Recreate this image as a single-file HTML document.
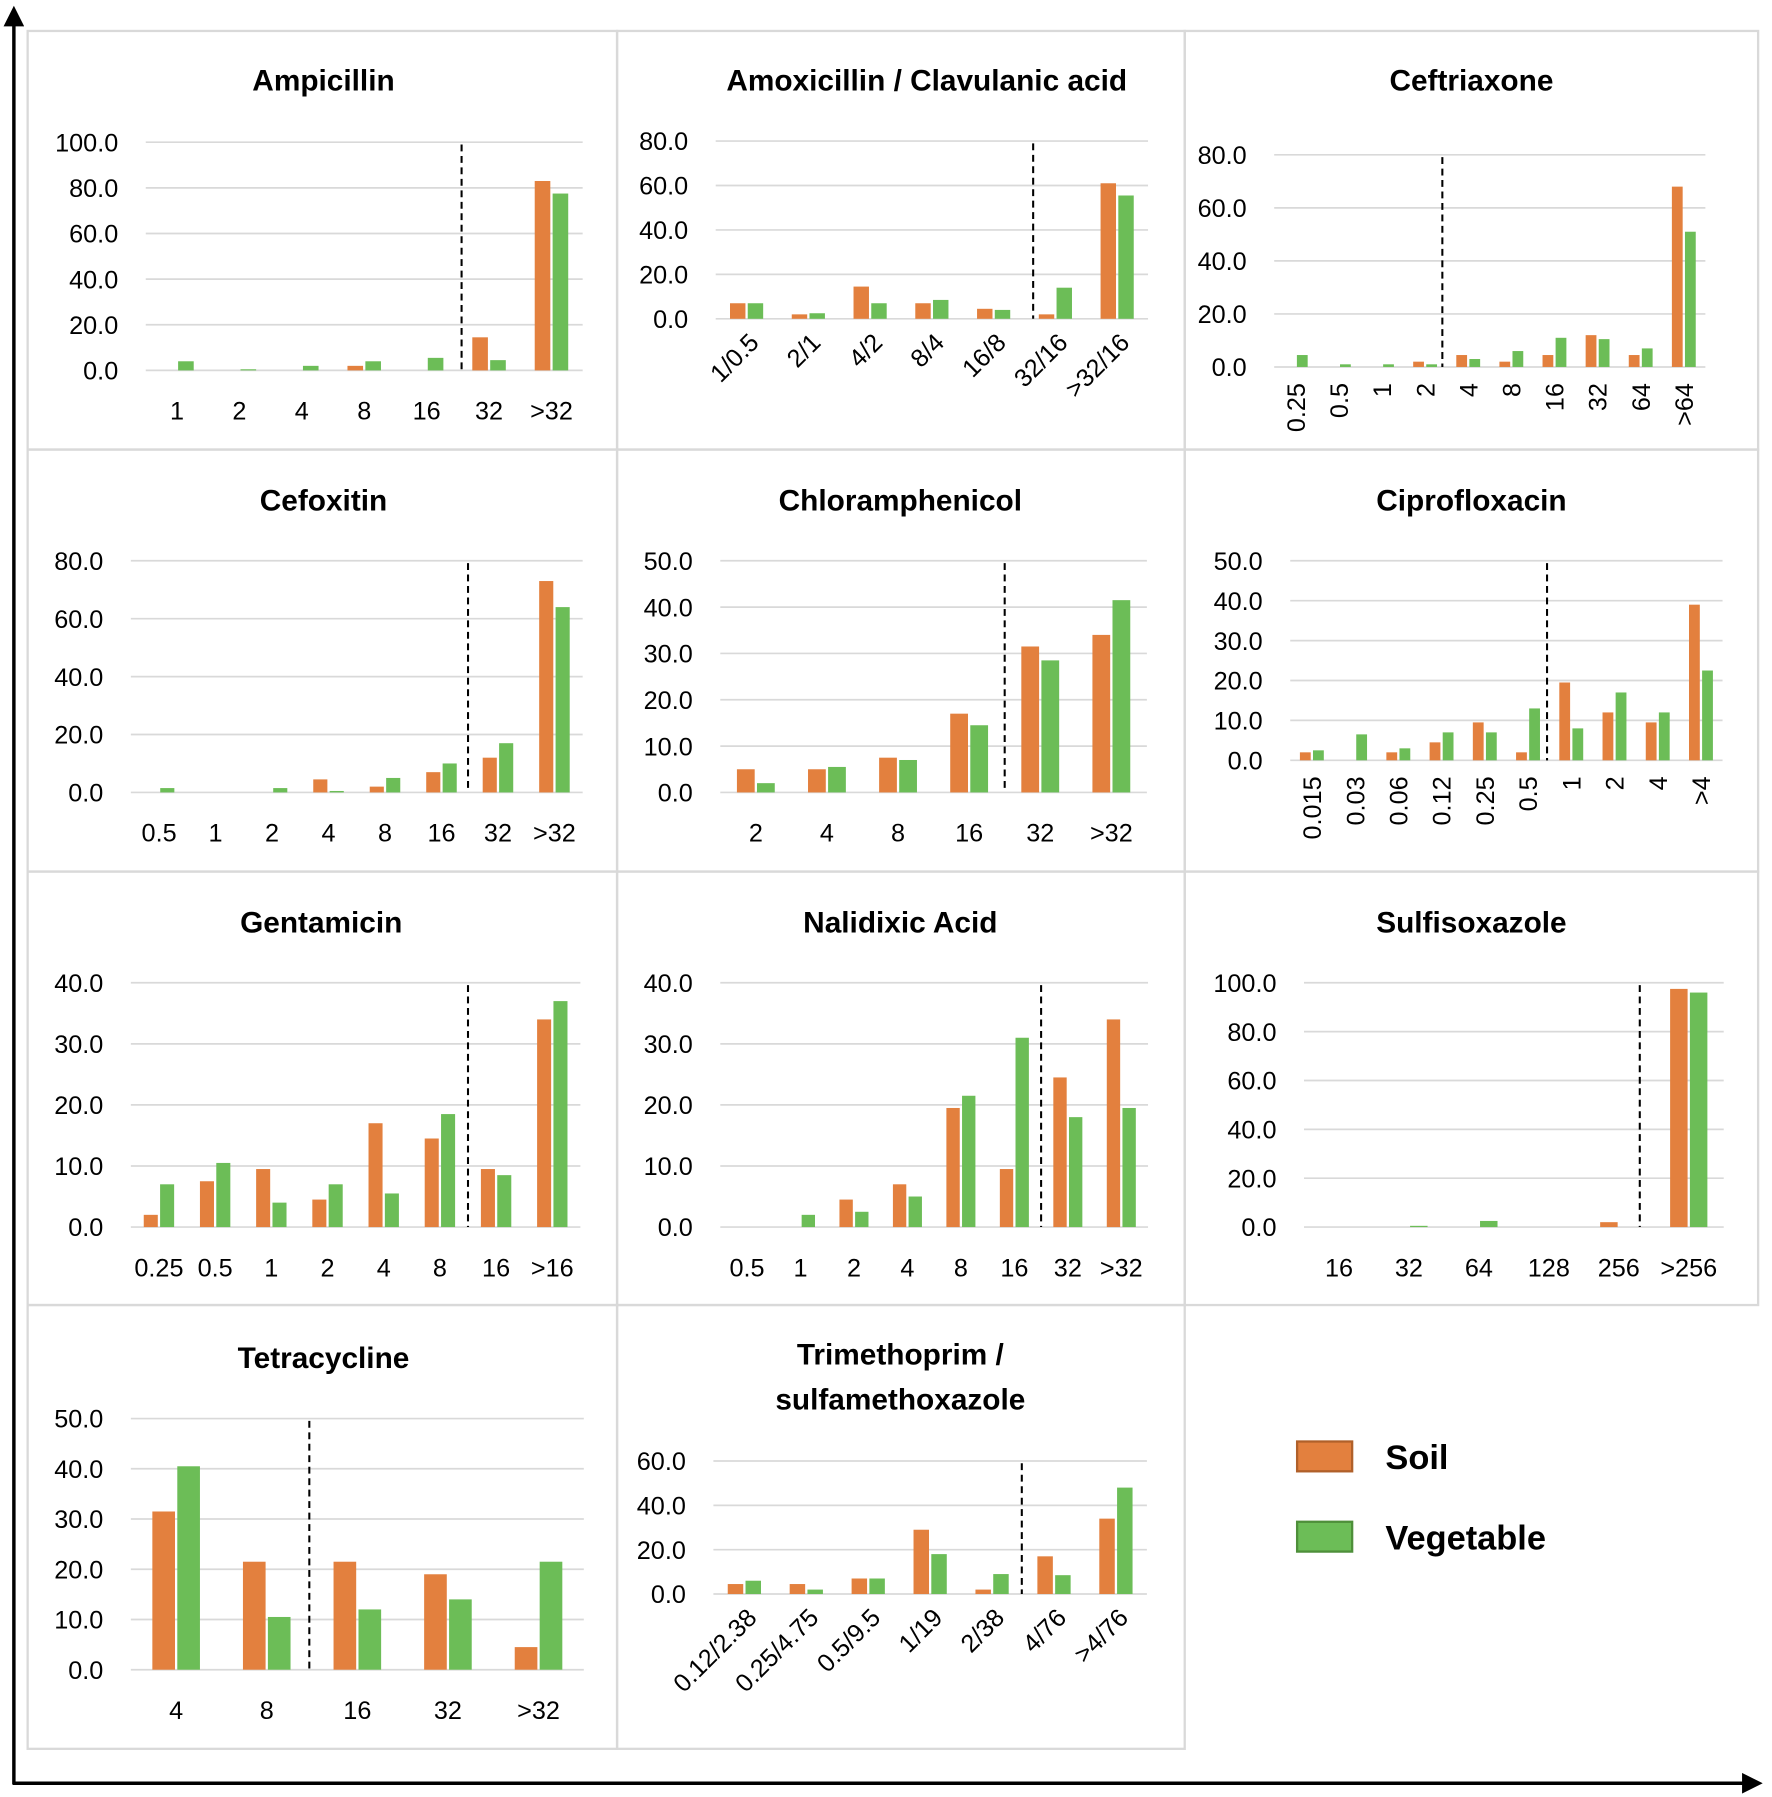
<!DOCTYPE html>
<html><head><meta charset="utf-8"><style>
html,body{margin:0;padding:0;background:#fff}
svg{display:block;font-family:"Liberation Sans",Arial,sans-serif}
</style></head><body>
<svg id="chart" width="1772" height="1797" viewBox="0 0 1545 1567" xmlns="http://www.w3.org/2000/svg">
<defs><marker id="ah" markerWidth="6" markerHeight="6" refX="3" refY="3" orient="auto"><path d="M0,0 L6,3 L0,6 z" fill="#000"/></marker></defs>
</svg>
<script>
// ---- data ----
const ampCats=["1","2","4","8","16","32",">32"];
const ampSoil=[0,0,0,2,0,14.5,83];
const ampVeg=[4,0.5,2,4,5.5,4.5,77.5];
const amcCats=["1/0.5","2/1","4/2","8/4","16/8","32/16",">32/16"];
const amcSoil=[7,2,14.5,7,4.5,2,61];
const amcVeg=[7,2.5,7,8.5,4,14,55.5];
const croCats=["0.25","0.5","1","2","4","8","16","32","64",">64"];
const croSoil=[0,0,0,2,4.5,2,4.5,12,4.5,68];
const croVeg=[4.5,1,1,1,3,6,11,10.5,7,51];
const foxCats=["0.5","1","2","4","8","16","32",">32"];
const foxSoil=[0,0,0,4.5,2,7,12,73];
const foxVeg=[1.5,0,1.5,0.5,5,10,17,64];
const chlCats=["2","4","8","16","32",">32"];
const chlSoil=[5,5,7.5,17,31.5,34];
const chlVeg=[2,5.5,7,14.5,28.5,41.5];
const cipCats=["0.015","0.03","0.06","0.12","0.25","0.5","1","2","4",">4"];
const cipSoil=[2,0,2,4.5,9.5,2,19.5,12,9.5,39];
const cipVeg=[2.5,6.5,3,7,7,13,8,17,12,22.5];
const genCats=["0.25","0.5","1","2","4","8","16",">16"];
const genSoil=[2,7.5,9.5,4.5,17,14.5,9.5,34];
const genVeg=[7,10.5,4,7,5.5,18.5,8.5,37];
const nalCats=["0.5","1","2","4","8","16","32",">32"];
const nalSoil=[0,0,4.5,7,19.5,9.5,24.5,34];
const nalVeg=[0,2,2.5,5,21.5,31,18,19.5];
const sulCats=["16","32","64","128","256",">256"];
const sulSoil=[0,0,0,0,2,97.5];
const sulVeg=[0,0.5,2.5,0,0,96];
const tetCats=["4","8","16","32",">32"];
const tetSoil=[31.5,21.5,21.5,19,4.5];
const tetVeg=[40.5,10.5,12,14,21.5];
const sxtCats=["0.12/2.38","0.25/4.75","0.5/9.5","1/19","2/38","4/76",">4/76"];
const sxtSoil=[4.5,4.5,7,29,2,17,34];
const sxtVeg=[6,2,7,18,9,8.5,48];

const SOIL="#E3803E",VEG="#6CBD57";
const svg=document.getElementById('chart');
const NS="http://www.w3.org/2000/svg";
function mk(tag,attrs,parent){const e=document.createElementNS(NS,tag);for(const k in attrs)e.setAttribute(k,attrs[k]);(parent||svg).appendChild(e);return e;}

const panels=[[24,27,514,365],[538,27,495,365],[1033,27,500,365],[24,392,514,368],[538,392,495,368],[1033,392,500,368],[24,760,514,378],[538,760,495,378],[1033,760,500,378],[24,1138,514,387],[538,1138,495,387]];
panels.forEach(p=>{const r=mk('rect',{x:p[0],y:p[1],width:p[2],height:p[3],fill:'none',stroke:'#d9d9d9','stroke-width':2});

});

const charts=[
 {name:'ampicillin',title:['Ampicillin'],tx:282,ty:70,cats:ampCats,soil:ampSoil,veg:ampVeg,left:127,right:508,y0:323,yTop:124,max:100,step:20,cut:5.06,rot:0},
 {name:'amoxicillin-clavulanic',title:['Amoxicillin / Clavulanic acid'],tx:808,ty:70,cats:amcCats,soil:amcSoil,veg:amcVeg,left:624,right:1001,y0:278,yTop:123,max:80,step:20,cut:5.14,rot:-45},
 {name:'ceftriaxone',title:['Ceftriaxone'],tx:1283,ty:70,cats:croCats,soil:croSoil,veg:croVeg,left:1111,right:1487,y0:320,yTop:135,max:80,step:20,cut:3.9,rot:-90},
 {name:'cefoxitin',title:['Cefoxitin'],tx:282,ty:436,cats:foxCats,soil:foxSoil,veg:foxVeg,left:114,right:508,y0:691,yTop:489,max:80,step:20,cut:5.97,rot:0},
 {name:'chloramphenicol',title:['Chloramphenicol'],tx:785,ty:436,cats:chlCats,soil:chlSoil,veg:chlVeg,left:628,right:1000,y0:691,yTop:489,max:50,step:10,cut:4.0,rot:0},
 {name:'ciprofloxacin',title:['Ciprofloxacin'],tx:1283,ty:436,cats:cipCats,soil:cipSoil,veg:cipVeg,left:1125,right:1502,y0:663,yTop:489,max:50,step:10,cut:5.94,rot:-90},
 {name:'gentamicin',title:['Gentamicin'],tx:280,ty:804,cats:genCats,soil:genSoil,veg:genVeg,left:114,right:506,y0:1070,yTop:857,max:40,step:10,cut:6.0,rot:0},
 {name:'nalidixic-acid',title:['Nalidixic Acid'],tx:785,ty:804,cats:nalCats,soil:nalSoil,veg:nalVeg,left:628,right:1001,y0:1070,yTop:857,max:40,step:10,cut:6.0,rot:0},
 {name:'sulfisoxazole',title:['Sulfisoxazole'],tx:1283,ty:804,cats:sulCats,soil:sulSoil,veg:sulVeg,left:1137,right:1503,y0:1070,yTop:857,max:100,step:20,cut:4.8,rot:0},
 {name:'tetracycline',title:['Tetracycline'],tx:282,ty:1184,cats:tetCats,soil:tetSoil,veg:tetVeg,left:114,right:509,y0:1456,yTop:1237,max:50,step:10,cut:1.97,rot:0},
 {name:'trimethoprim-sulfamethoxazole',title:['Trimethoprim /','sulfamethoxazole'],tx:785,ty:1181,cats:sxtCats,soil:sxtSoil,veg:sxtVeg,left:622,right:1000,y0:1390,yTop:1274,max:60,step:20,cut:4.98,rot:-45}
];

charts.forEach(c=>{
 const g=mk('g',{});
 
 
 c.title.forEach((t,i)=>{const e=mk('text',{x:c.tx,y:c.ty+i*39+9,'text-anchor':'middle','font-size':26,'font-weight':'bold',fill:'#000'},g);e.textContent=t;
  
  });
 const n=c.cats.length,w=(c.right-c.left)/n;
 const xs=i=>c.left+w*(i+0.5);
 const ys=v=>c.y0-(v/c.max)*(c.y0-c.yTop);
 for(let v=0;v<=c.max+1e-9;v+=c.step){
  const y=ys(v);
  const l=mk('line',{x1:c.left,x2:c.right,y1:y,y2:y,stroke:'#d9d9d9','stroke-width':1.5},g);
  
  
  const t=mk('text',{x:c.left-24,y:y+8,'text-anchor':'end','font-size':22,fill:'#000'},g);t.textContent=v.toFixed(1);
  
  
 }
 const bw=w*0.25;
 c.cats.forEach((cat,i)=>{
  const cx=xs(i);
  const b1=mk('rect',{x:cx-bw-1,y:ys(c.soil[i]),width:bw,height:c.y0-ys(c.soil[i]),fill:SOIL},g);
  
  
  const b2=mk('rect',{x:cx+1,y:ys(c.veg[i]),width:bw,height:c.y0-ys(c.veg[i]),fill:VEG},g);
  
  
  let t;
  if(c.rot===0){t=mk('text',{x:cx,y:c.y0+43,'text-anchor':'middle','font-size':22},g);}
  else if(c.rot===-90){t=mk('text',{x:cx+8,y:c.y0+14,'text-anchor':'end','font-size':22,transform:`rotate(-90 ${cx+8} ${c.y0+14})`},g);}
  else {t=mk('text',{x:cx+12,y:c.y0+22,'text-anchor':'end','font-size':22,transform:`rotate(-45 ${cx+12} ${c.y0+22})`},g);}
  t.textContent=cat;
  
  
 });
 const cx=c.left+w*c.cut;
 const d=mk('line',{x1:cx,x2:cx,y1:c.yTop+2,y2:c.y0,stroke:'#000','stroke-width':1.8,'stroke-dasharray':'6,4'},g);
 
 
});

[['Soil',SOIL,'#B0602A',1270],['Vegetable',VEG,'#4E8F3A',1340]].forEach(l=>{
 const r=mk('rect',{x:1131,y:l[3]-13,width:48,height:26,fill:l[1],stroke:l[2],'stroke-width':2});
 
 
 const t=mk('text',{x:1208,y:l[3]+11,'font-size':30,'font-weight':'bold'});t.textContent=l[0];
 
 
});
const a1=mk('line',{x1:12,y1:1556,x2:12,y2:14,stroke:'#000','stroke-width':3,'marker-end':'url(#ah)'});


const a2=mk('line',{x1:11,y1:1555,x2:1528,y2:1555,stroke:'#000','stroke-width':3,'marker-end':'url(#ah)'});


</script>
</body></html>
